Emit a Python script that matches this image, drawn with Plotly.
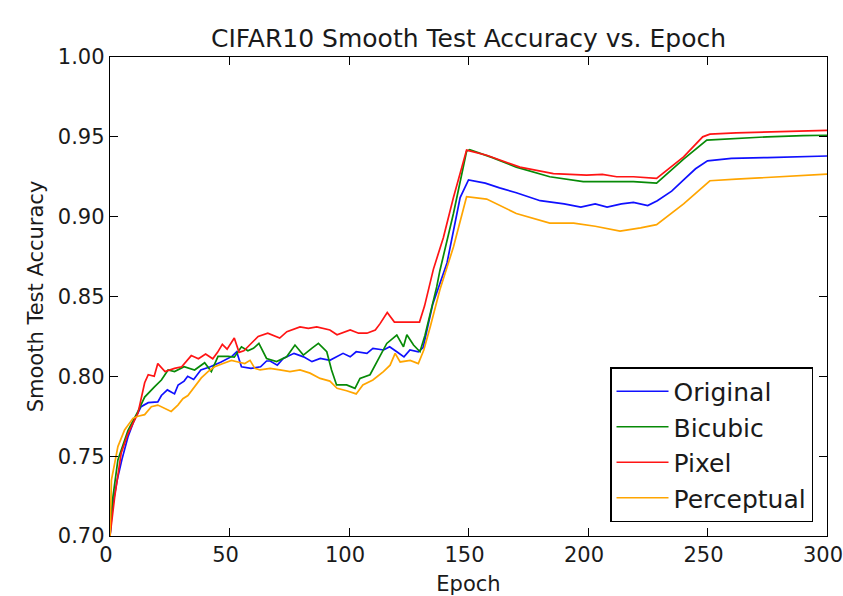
import plotly.graph_objects as go

# ---- data ----
orig_ep = [0, 1, 3, 5, 7.5, 10, 13, 16, 20, 21.5, 24, 27, 28.5, 31, 32.5, 35, 38, 42, 46.5, 51,
           53, 55, 59, 63, 65.5, 67, 70, 72.5, 77, 81, 84.5, 88, 92, 95, 97.5, 100.5, 103, 107.5,
           110, 114.5, 117, 120, 123, 125.5, 129, 131, 135, 141, 146.5, 150, 157, 163, 170, 180,
           190, 197, 203, 208, 214, 219, 225, 229, 235, 240, 245, 250, 260, 275, 290, 300]
orig_acc = [0.700, 0.718, 0.735, 0.748, 0.762, 0.772, 0.781, 0.7835, 0.784, 0.788, 0.7915, 0.789,
            0.7946, 0.797, 0.800, 0.798, 0.804, 0.806, 0.809, 0.8125, 0.8154, 0.806, 0.805, 0.806,
            0.8096, 0.8096, 0.807, 0.8112, 0.8144, 0.8122, 0.8092, 0.8112, 0.810, 0.8122, 0.8144,
            0.8122, 0.8154, 0.8144, 0.8175, 0.8165, 0.8185, 0.8154, 0.8122, 0.8165, 0.8154, 0.818,
            0.845, 0.871, 0.912, 0.923, 0.921, 0.918, 0.915, 0.910, 0.908, 0.906, 0.908, 0.906,
            0.908, 0.909, 0.907, 0.910, 0.916, 0.923, 0.930, 0.935, 0.9365, 0.937, 0.9375, 0.938]

bic_ep = [0, 1, 3.3, 7.5, 11.7, 14.5, 18.7, 21.5, 24.3, 27, 31, 35.4, 39.6, 42.4, 45.2, 49.4, 52,
          55, 57.7, 60, 62.3, 65.5, 69.7, 73.9, 77.4, 80.9, 84.4, 87.2, 90.7, 92.7, 94.8, 99,
          102.5, 104.6, 108.8, 113, 115.8, 120, 122.8, 124.2, 127, 129.7, 131.8, 136.7, 138,
          143.7, 149.2, 150.5, 160, 170, 184, 198, 210, 219, 228.7, 240, 249.7, 260, 275, 290, 300]
bic_acc = [0.700, 0.722, 0.7476, 0.766, 0.778, 0.787, 0.7935, 0.7977, 0.804, 0.803, 0.806, 0.804,
           0.8085, 0.803, 0.8125, 0.8125, 0.812, 0.8185, 0.816, 0.8175, 0.8206, 0.8112, 0.8092,
           0.8122, 0.8196, 0.8133, 0.8175, 0.8206, 0.8154, 0.804, 0.7946, 0.7946, 0.7925, 0.7987,
           0.801, 0.8133, 0.8206, 0.8258, 0.8185, 0.826, 0.8196, 0.8154, 0.8258, 0.856, 0.866,
           0.902, 0.941, 0.942, 0.937, 0.931, 0.925, 0.922, 0.922, 0.922, 0.921, 0.936, 0.948,
           0.949, 0.950, 0.9508, 0.951]

pix_ep = [0, 2, 4.7, 7.5, 11.7, 14.5, 16, 18.5, 20, 23, 27, 30, 34, 37, 40, 43, 45, 47, 49, 52,
          54, 56, 58, 62, 66, 71, 74, 79.5, 83, 86.5, 92, 95, 100.5, 104, 107.5, 111, 113, 116,
          119, 124, 129.5, 131.6, 135.3, 139.5, 143.7, 149.2, 157.6, 171.5, 185.5, 199.4, 206,
          212, 219, 228.7, 240, 248, 251, 262, 275, 290, 300]
pix_acc = [0.700, 0.725, 0.752, 0.764, 0.777, 0.796, 0.801, 0.800, 0.808, 0.803, 0.805, 0.806,
           0.813, 0.811, 0.814, 0.811, 0.815, 0.820, 0.817, 0.824, 0.815, 0.816, 0.819, 0.825,
           0.827, 0.824, 0.828, 0.831, 0.830, 0.831, 0.829, 0.826, 0.829, 0.827, 0.827, 0.829,
           0.833, 0.840, 0.834, 0.834, 0.834, 0.844, 0.867, 0.887, 0.912, 0.9417, 0.9385, 0.931,
           0.927, 0.926, 0.9265, 0.925, 0.925, 0.924, 0.9375, 0.950, 0.9517, 0.9525, 0.953,
           0.9535, 0.954]

perc_ep = [0, 0.6, 3.3, 6.1, 9.6, 11.7, 14.5, 17.3, 20, 22.8, 25.6, 28.4, 30.5, 32.6, 35.4, 38.2,
           41, 43.8, 47.3, 50.8, 53.6, 56.4, 58.6, 60.6, 62.8, 67, 71.1, 75.3, 79.5, 83.7, 87.9,
           92, 95, 99, 103, 105.8, 110, 114.4, 117.2, 119.3, 121.4, 125.6, 129, 131.3, 134, 138,
           143.7, 149.2, 157.6, 170, 184, 194, 203, 213.4, 222, 228.7, 240, 251, 262, 275, 290, 300]
perc_acc = [0.700, 0.735, 0.756, 0.7664, 0.7737, 0.775, 0.776, 0.781, 0.782, 0.780, 0.778, 0.782,
            0.786, 0.788, 0.7935, 0.799, 0.803, 0.806, 0.808, 0.810, 0.809, 0.808, 0.810, 0.805,
            0.804, 0.805, 0.804, 0.803, 0.804, 0.802, 0.7987, 0.797, 0.7925, 0.791, 0.789, 0.7946,
            0.7977, 0.803, 0.807, 0.8144, 0.809, 0.810, 0.808, 0.8165, 0.831, 0.854, 0.881,
            0.9125, 0.911, 0.902, 0.896, 0.896, 0.894, 0.891, 0.893, 0.895, 0.908, 0.9225, 0.9235,
            0.9245, 0.926, 0.9266]

series_names = ["Original", "Bicubic", "Pixel", "Perceptual"]
x_ticks = [0, 50, 100, 150, 200, 250, 300]
y_ticks = [0.70, 0.75, 0.80, 0.85, 0.90, 0.95, 1.00]

series = [(orig_ep, orig_acc), (bic_ep, bic_acc), (pix_ep, pix_acc), (perc_ep, perc_acc)]
colors = ["#1010ff", "#078a07", "#ff1414", "#ffa500"]

for e, a in series:
    assert len(e) == len(a), (len(e), len(a))

FONT = "DejaVu Sans"
TXT = "#1a1a1a"
W, H = 843, 596

fig = go.Figure()
for (e, a), name, c in zip(series, series_names, colors):
    fig.add_trace(go.Scatter(x=e, y=a, mode="lines", name=name, legendgroup=name,
                             line=dict(color=c, width=1.7)))

axis_common = dict(showline=True, linecolor="black", linewidth=1.4, mirror="ticks",
                   ticks="inside", ticklen=8, tickwidth=1, tickcolor="black",
                   showgrid=False, zeroline=False, automargin=False,
                   ticklabeloverflow="allow",
                   tickfont=dict(family=FONT, size=21, color=TXT))

L, R, T, B = 110, 16, 57, 60
fig.update_layout(
    width=W, height=H,
    margin=dict(l=L, r=R, t=T, b=B),
    paper_bgcolor="white", plot_bgcolor="white",
    font=dict(family=FONT, color=TXT),
    title=dict(text="CIFAR10 Smooth Test Accuracy vs. Epoch", x=(L + W - R) / 2 / W,
               xanchor="center", y=1 - 38 / H, yanchor="middle",
               font=dict(family=FONT, size=25, color=TXT)),
    xaxis=dict(range=[0, 300], tickvals=x_ticks, ticklabelshift=-4,
               title=dict(text="Epoch", standoff=10, font=dict(family=FONT, size=21, color=TXT)),
               **axis_common),
    yaxis=dict(range=[0.70, 1.00], tickvals=y_ticks, tickformat=".2f",
               title=dict(text="Smooth Test Accuracy", standoff=8,
                          font=dict(family=FONT, size=21, color=TXT)),
               **axis_common),
    legend=dict(x=0.9805, xanchor="right", y=0.0292, yanchor="bottom",
                bordercolor="black", borderwidth=1.5, bgcolor="white",
                font=dict(family=FONT, size=25, color=TXT),
                traceorder="grouped", tracegroupgap=0, itemwidth=52),
)

# remove the browser's default 8px body margin so the figure fills the 843x596 window exactly
fig.write_html("out.html",
               config={"displayModeBar": False},
               post_script="document.body.style.margin='0';document.body.style.overflow='hidden';")
